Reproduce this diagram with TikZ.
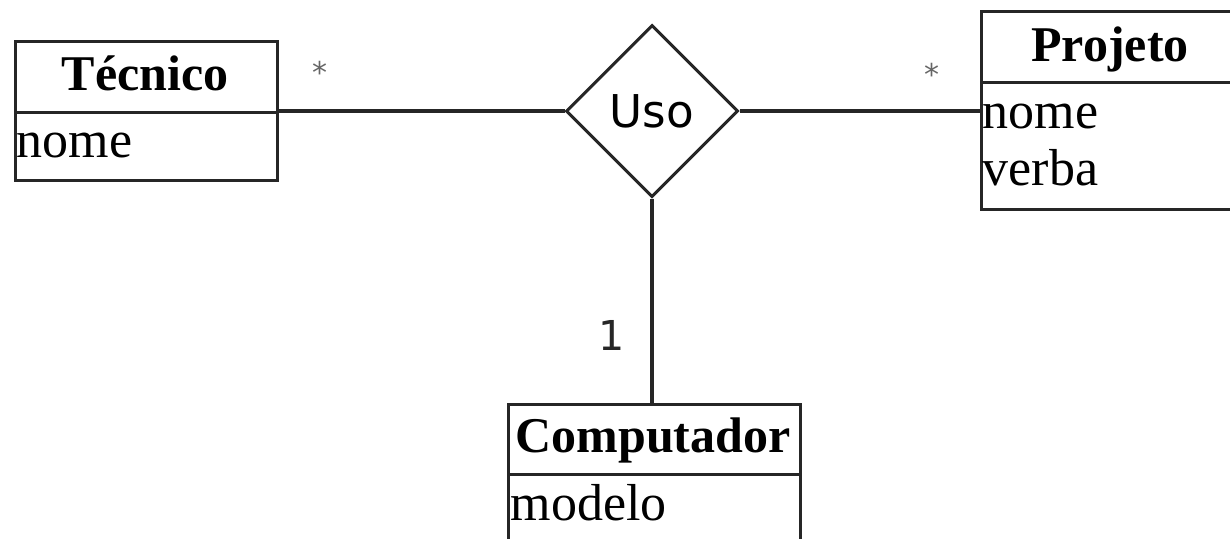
\documentclass[tikz,border=0pt]{standalone}
\usepackage{fontspec}
\setmainfont{Liberation Serif}
\newfontfamily\sansf{DejaVu Sans}
\usetikzlibrary{shapes.geometric}
\begin{document}
\begin{tikzpicture}[x=0.25pt,y=-0.25pt,
  box/.style={draw=black!85, line width=0.85pt, rectangle, inner sep=0pt, anchor=north west},
  ttl/.style={font=\fontsize{12.5}{14}\selectfont\bfseries, anchor=base, inner sep=0pt},
  attr/.style={font=\fontsize{13}{15}\selectfont, anchor=base west, inner sep=0pt},
  rel/.style={draw=black!85, line width=0.75pt, diamond, aspect=1, inner sep=0pt,
    minimum width=43pt, minimum height=43pt, font=\sansf\fontsize{11.3}{13}\selectfont},
  conn/.style={draw=black!85, line width=0.85pt},
  star/.style={font=\sansf\fontsize{7.5}{9}\selectfont, text=black!60, inner sep=0pt},
  one/.style={font=\sansf\fontsize{10.3}{12}\selectfont, text=black!85, inner sep=0pt}
]
\useasboundingbox (0,0) rectangle (1230,538);
\clip (0,0) rectangle (1230,538);

% Tecnico
\node[box, minimum width=65.5pt, minimum height=17.75pt] (tecT) at (14,40) {};
\node[box, minimum width=65.5pt, minimum height=17pt] (tecA) at (14,111) {};
\node[ttl] (tecN) at (145,90) {Técnico};
\node[attr] (tecA1) at (16,157) {nome};

% Projeto
\node[box, minimum width=65pt, minimum height=17.75pt] (proT) at (980,10) {};
\node[box, minimum width=65pt, minimum height=31.75pt] (proA) at (980,81) {};
\node[ttl] (proN) at (1110,61) {Projeto};
\node[attr] (proA1) at (982,128) {nome};
\node[attr] (proA2) at (982,185) {verba};

% Computador
\node[box, minimum width=73pt, minimum height=17.5pt] (comT) at (507,403) {};
\node[box, minimum width=73pt, minimum height=25pt] (comA) at (507,473) {};
\node[ttl] (comN) at (653,452) {Computador};
\node[attr] (comA1) at (510,520) {modelo};

% Uso
\node[rel] (uso) at (652,111) {Uso};

% connectors
\draw[conn] (tecA.north east) -- (uso.west);
\draw[conn] (uso.east) -- (uso.east -| proT.west);
\draw[conn] (uso.south) -- (uso.south |- comT.north);

% multiplicities
\node[star] (m1) at (320,72) {*};
\node[star] (m2) at (932,74) {*};
\node[one] (m3) at (612,335) {1};
\end{tikzpicture}
\end{document}
